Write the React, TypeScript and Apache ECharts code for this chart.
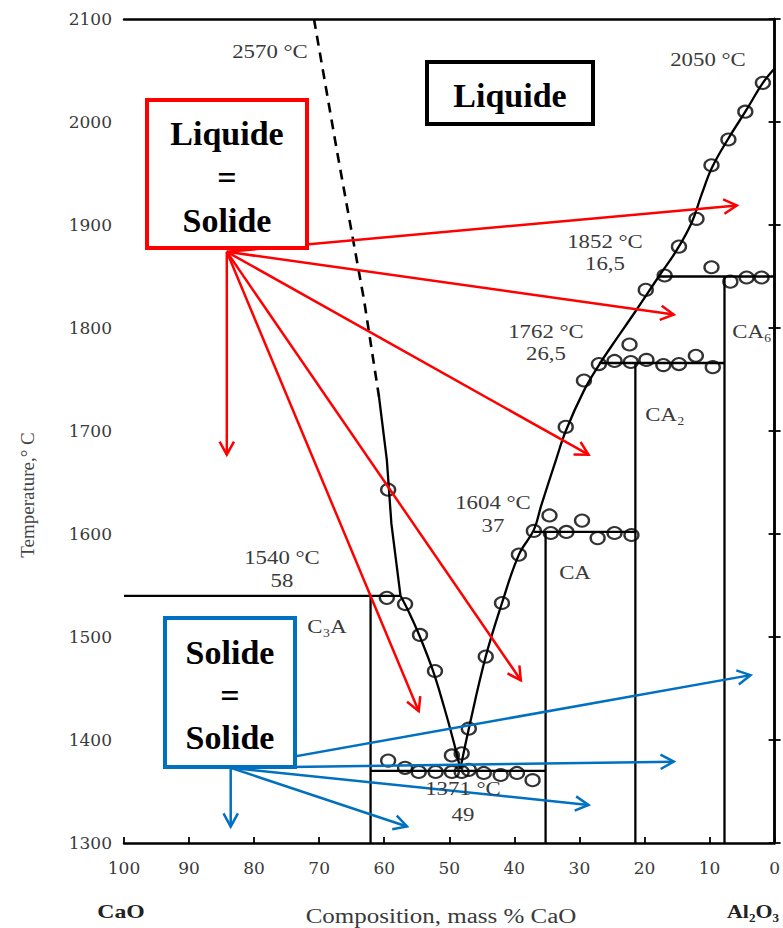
import React, { useEffect, useRef } from "react";
import * as echarts from "echarts";

// ---- data (composition mass % CaO, temperature °C) ----
const dashedLiquidus = [[70.8, 2100], [67.3, 1973], [63.1, 1827], [60.8, 1733]];
const caoLiquidus = [[60.8, 1733], [59.6, 1672], [58.9, 1610], [57.5, 1540]];
const c3aLiquidus = [[57.5, 1540], [56.2, 1524], [54.5, 1500], [52.5, 1467], [50.8, 1432], [49.4, 1400], [48.3, 1372]];
const aluminaLiquidus = [
  [48.3, 1372], [47.0, 1411], [44.4, 1481], [41.9, 1533], [39.3, 1580], [37.0, 1604],
  [35.9, 1627], [33.6, 1672], [32.1, 1700], [29.4, 1738], [27.0, 1764], [25.0, 1783],
  [21.4, 1816], [17.8, 1850], [15.0, 1876], [12.7, 1903], [11.2, 1930], [9.6, 1956],
  [7.1, 1984], [4.5, 2010], [1.8, 2038], [0, 2052],
];
const isotherm1540 = [[100, 1540], [57.5, 1540]];
const isotherm1371 = [[62.1, 1370], [35.2, 1370]];
const isotherm1604 = [[37.0, 1602], [21.4, 1602]];
const isotherm1762 = [[27.0, 1766], [7.7, 1766]];
const isotherm1852 = [[17.8, 1850], [0, 1850]];
const lineC3A = [[62.1, 1540], [62.1, 1300]];
const lineCA = [[35.2, 1602], [35.2, 1300]];
const lineCA2 = [[21.4, 1766], [21.4, 1300]];
const lineCA6 = [[7.7, 1850], [7.7, 1300]];

const measuredPoints = [
  [59.4, 1643], [59.6, 1538], [56.8, 1532], [54.5, 1502], [52.2, 1467], [49.6, 1385], [48.1, 1387],
  [47.0, 1411], [44.4, 1481], [41.9, 1533], [39.3, 1580], [37.0, 1603], [34.6, 1618], [34.4, 1601],
  [32.0, 1602], [29.6, 1613], [27.2, 1596], [24.6, 1601], [22.0, 1599],
  [32.1, 1704], [29.3, 1749], [27.0, 1765], [24.6, 1768], [22.3, 1784], [22.1, 1767], [19.7, 1769],
  [17.1, 1764], [14.7, 1765], [12.1, 1773], [9.5, 1762],
  [19.8, 1837], [16.9, 1851], [14.7, 1879], [12.0, 1906], [9.7, 1958], [7.1, 1983], [4.5, 2010], [1.8, 2038],
  [9.7, 1859], [6.8, 1845], [4.3, 1849], [2.0, 1849],
  [59.4, 1380], [56.8, 1373], [54.7, 1369], [52.1, 1369], [49.6, 1369], [48.1, 1369], [47.0, 1371],
  [44.7, 1368], [42.1, 1366], [39.6, 1368], [37.2, 1361],
];

const redArrowStart = [84.2, 1874];
const redArrowEnds = [[5.8, 1919], [15.5, 1813], [28.6, 1677], [39.0, 1458], [54.7, 1428], [84.2, 1677]];
const blueArrowStart = [83.6, 1373];
const blueArrowEnds = [[83.6, 1316], [56.5, 1316], [28.6, 1337], [15.5, 1379], [3.7, 1463]];

const xMin = 0, xMax = 100, xStep = 10;
const yMin = 1300, yMax = 2100, yStep = 100;

const SERIF = '"Liberation Serif", "Times New Roman", serif';
const TICKFONT = '"DejaVu Serif", serif';
const GREY = "#3a3a3a";

function lineSeries(data: number[][], dashed = false, smooth: number | boolean = false) {
  return {
    type: "line",
    data,
    symbol: "none",
    smooth,
    silent: true,
    lineStyle: { color: "#000", width: dashed ? 2.6 : 2.3, type: dashed ? [10, 7] : "solid" },
    z: 3,
  };
}

function arrowSeries(start: number[], ends: number[][], color: string) {
  return {
    type: "custom",
    coordinateSystem: "cartesian2d",
    silent: true,
    z: 6,
    encode: { x: [0, 2], y: [1, 3] },
    data: ends.map((e) => [start[0], start[1], e[0], e[1]]),
    renderItem: (_p: any, api: any) => {
      const p0 = api.coord([api.value(0), api.value(1)]);
      const p1 = api.coord([api.value(2), api.value(3)]);
      const ang = Math.atan2(p1[1] - p0[1], p1[0] - p0[0]);
      const L = 15, a = 0.5;
      const h1 = [p1[0] - L * Math.cos(ang - a), p1[1] - L * Math.sin(ang - a)];
      const h2 = [p1[0] - L * Math.cos(ang + a), p1[1] - L * Math.sin(ang + a)];
      return {
        type: "group",
        children: [
          { type: "line", shape: { x1: p0[0], y1: p0[1], x2: p1[0], y2: p1[1] }, style: { stroke: color, lineWidth: 2.5 } },
          { type: "polyline", shape: { points: [h1, p1, h2] }, style: { stroke: color, lineWidth: 2.5, fill: null } },
        ],
      };
    },
  };
}

function label(text: string, x: number, y: number, opts: any = {}) {
  return {
    type: "text",
    x,
    y,
    scaleX: opts.scaleX ?? 1.2,
    rotation: opts.rotation ?? 0,
    z: opts.z ?? 10,
    style: {
      text,
      x: 0,
      y: 0,
      fill: opts.fill ?? GREY,
      font: opts.font ?? `19px ${SERIF}`,
      align: "center",
      verticalAlign: "middle",
      textAlign: "center",
      textVerticalAlign: "middle",
    },
  };
}

function box(x: number, y: number, w: number, h: number, color: string) {
  return {
    type: "rect",
    z: 8,
    shape: { x, y, width: w, height: h },
    style: { fill: "#fff", stroke: color, lineWidth: 4 },
  };
}

export default function App() {
  const ref = useRef<HTMLDivElement>(null);
  useEffect(() => {
    if (!ref.current) return;
    const chart = echarts.init(ref.current, null, { renderer: "svg" });
    const axisLine = { show: true, lineStyle: { color: "#000", width: 2.5 } };
    const tick = { show: true, inside: true, length: 6, lineStyle: { color: "#000", width: 1.8 } };
    const boldText = `bold 34px ${SERIF}`;
    const plain = (v: number) => String(v);
    chart.setOption({
      animation: false,
      grid: { left: 124, right: 7, top: 19, bottom: 85, containLabel: false },
      xAxis: [
        {
          type: "value", min: xMin, max: xMax, interval: xStep, inverse: true,
          axisLine, axisTick: tick, splitLine: { show: false },
          axisLabel: { color: GREY, fontFamily: TICKFONT, fontSize: 17, margin: 16, formatter: plain },
        },
        {
          type: "value", position: "top", min: xMin, max: xMax, interval: xStep, inverse: true,
          axisLine, axisTick: { show: false }, axisLabel: { show: false }, splitLine: { show: false },
        },
      ],
      yAxis: [
        {
          type: "value", min: yMin, max: yMax, interval: yStep,
          axisLine, axisTick: tick, splitLine: { show: false },
          axisLabel: { color: GREY, fontFamily: TICKFONT, fontSize: 17, margin: 12, formatter: plain },
        },
        {
          type: "value", position: "right", min: yMin, max: yMax, interval: yStep,
          axisLine, axisTick: tick, axisLabel: { show: false }, splitLine: { show: false },
        },
      ],
      series: [
        lineSeries(dashedLiquidus, true),
        lineSeries(caoLiquidus),
        lineSeries(c3aLiquidus, false, 0.4),
        lineSeries(aluminaLiquidus, false, 0.4),
        lineSeries(isotherm1540),
        lineSeries(isotherm1371),
        lineSeries(isotherm1604),
        lineSeries(isotherm1762),
        lineSeries(isotherm1852),
        lineSeries(lineC3A),
        lineSeries(lineCA),
        lineSeries(lineCA2),
        lineSeries(lineCA6),
        {
          type: "scatter",
          data: measuredPoints,
          symbol: "circle",
          symbolSize: [14, 12],
          silent: true,
          z: 4,
          itemStyle: { color: "rgba(255,255,255,0)", borderColor: "#000", borderWidth: 2.2 },
        },
        arrowSeries(redArrowStart, redArrowEnds, "#ff0000"),
        arrowSeries(blueArrowStart, blueArrowEnds, "#0070c0"),
      ],
      graphic: [
        label("2570 °C", 270, 52),
        label("2050 °C", 708, 60),
        label("1852 °C", 605, 242),
        label("16,5", 605, 264),
        label("1762 °C", 546, 332),
        label("26,5", 546, 354),
        label("1604 °C", 493, 503),
        label("37", 493, 526),
        label("1540 °C", 282, 558),
        label("58", 282, 581),
        label("C₃A", 327, 627),
        label("1371 °C", 463, 789),
        label("49", 463, 815),
        label("CA", 575, 573),
        label("CA₂", 665, 415),
        label("CA₆", 752, 332),
        label("Temperature,° C", 27, 495, { rotation: Math.PI / 2, scaleX: 1, fill: "#444" }),
        label("Composition, mass % CaO", 441, 916, { font: `20px ${SERIF}`, scaleX: 1.25 }),
        label("CaO", 121, 912, { font: `bold 19px ${SERIF}`, fill: "#222", scaleX: 1.25 }),
        label("Al₂O₃", 753, 912, { font: `bold 19px ${SERIF}`, fill: "#222", scaleX: 1.15 }),
        box(147, 100, 160, 148, "#ff0000"),
        label("Liquide", 227, 133, { font: boldText, fill: "#000", scaleX: 1, z: 9 }),
        label("=", 227, 177, { font: boldText, fill: "#000", scaleX: 1, z: 9 }),
        label("Solide", 227, 220, { font: boldText, fill: "#000", scaleX: 1, z: 9 }),
        box(427, 62, 166, 62, "#000"),
        label("Liquide", 510, 95, { font: boldText, fill: "#000", scaleX: 1, z: 9 }),
        box(165, 618, 130, 149, "#0070c0"),
        label("Solide", 230, 652, { font: boldText, fill: "#000", scaleX: 1, z: 9 }),
        label("=", 230, 695, { font: boldText, fill: "#000", scaleX: 1, z: 9 }),
        label("Solide", 230, 737, { font: boldText, fill: "#000", scaleX: 1, z: 9 }),
      ],
    });
    return () => chart.dispose();
  }, []);
  return (
    <div
      ref={ref}
      style={{ position: "absolute", left: 0, top: 0, width: 783, height: 928, background: "#fff" }}
    />
  );
}
